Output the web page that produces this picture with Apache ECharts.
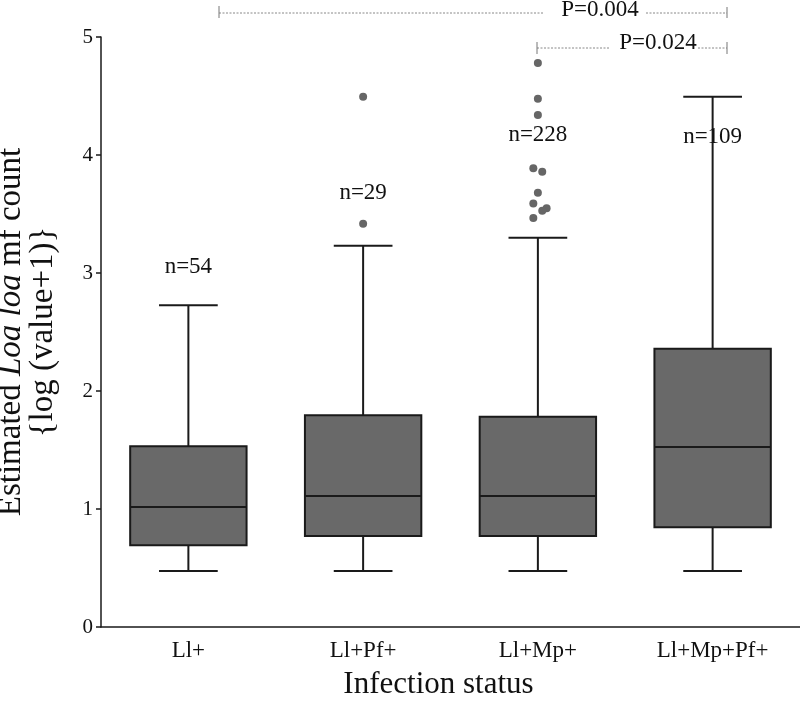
<!DOCTYPE html>
<html>
<head>
<meta charset="utf-8">
<script src="https://cdn.jsdelivr.net/npm/echarts@6/dist/echarts.min.js"></script>
<style>
html,body{margin:0;padding:0;background:#fff;}
#chart{width:800px;height:704px;}
</style>
</head>
<body>
<div id="chart"></div>
<script>
// ---- data ----
var categories = ['Ll+', 'Ll+Pf+', 'Ll+Mp+', 'Ll+Mp+Pf+'];
var lowerWhisker = [0.475, 0.475, 0.475, 0.475];
var q1 = [0.692, 0.771, 0.771, 0.845];
var median = [1.017, 1.110, 1.110, 1.525];
var q3 = [1.531, 1.794, 1.782, 2.359];
var upperWhisker = [2.726, 3.231, 3.298, 4.494];
var nLabels = ['n=54', 'n=29', 'n=228', 'n=109'];
var nLabelAt = [3.05, 3.68, 4.17, 4.155];
var outlierCat = [1, 1, 2, 2, 2, 2, 2, 2, 2, 2, 2, 2];
var outlierVal = [4.494, 3.418, 4.78, 4.477, 4.339, 3.887, 3.859, 3.681, 3.588, 3.548, 3.528, 3.466];
var outlierJitter = [0, 0, 0, 0, 0, -0.026, 0.025, 0, -0.026, 0.05, 0.025, -0.026];
var yTicks = [0, 1, 2, 3, 4, 5];

var FONT = "'Liberation Serif', 'Times New Roman', serif";

var boxData = categories.map(function (c, i) {
  return [i, lowerWhisker[i], q1[i], median[i], q3[i], upperWhisker[i]];
});
var labelData = categories.map(function (c, i) { return [i, nLabelAt[i], nLabels[i]]; });
var outData = outlierVal.map(function (v, i) { return [outlierCat[i], v, outlierJitter[i]]; });

var chart = echarts.init(document.getElementById('chart'), null, {renderer: 'canvas'});

var lineCol = '#1a1a1a';

var option = {
  animation: false,
  backgroundColor: '#fff',
  grid: {left: 101, right: 0, top: 37, bottom: 77, containLabel: false, outerBoundsMode: 'none'},
  xAxis: {
    type: 'category',
    data: categories,
    boundaryGap: true,
    name: 'Infection status',
    nameLocation: 'middle',
    nameGap: 42,
    nameTextStyle: {fontFamily: FONT, fontSize: 31, color: '#111', padding: [0, 24, 0, 0]},
    axisLine: {lineStyle: {color: lineCol, width: 1.5}},
    axisTick: {alignWithLabel: true, length: 6, lineStyle: {color: lineCol, width: 1.5}},
    axisLabel: {fontFamily: FONT, fontSize: 23, color: '#111', margin: 12},
    splitLine: {show: false}
  },
  yAxis: {
    type: 'value',
    min: 0, max: 5, interval: 1,
    name: 'Estimated {i|Loa loa} mf count\n{log (value+1)}',
    nameLocation: 'middle',
    nameGap: 42,
    nameTextStyle: {
      fontFamily: FONT, fontSize: 33, color: '#111', lineHeight: 32,
      rich: {i: {fontFamily: FONT, fontSize: 33, fontStyle: 'italic', color: '#111', lineHeight: 32}}
    },
    axisLine: {show: true, lineStyle: {color: lineCol, width: 1.5}},
    axisTick: {show: true, length: 5, lineStyle: {color: lineCol, width: 1.5}},
    axisLabel: {fontFamily: FONT, fontSize: 21, color: '#111', margin: 8,
      formatter: function (v) { return yTicks.indexOf(v) >= 0 ? String(v) : ''; }},
    splitLine: {show: false}
  },
  series: [
    {
      type: 'custom',
      data: boxData,
      encode: {x: 0, y: [1, 2, 3, 4, 5]},
      renderItem: function (params, api) {
        var i = api.value(0);
        var band = api.size([1, 0])[0];
        var hw = band * 0.333;
        var cw = band * 0.168;
        var pLow = api.coord([i, api.value(1)]);
        var pQ1 = api.coord([i, api.value(2)]);
        var pMed = api.coord([i, api.value(3)]);
        var pQ3 = api.coord([i, api.value(4)]);
        var pHigh = api.coord([i, api.value(5)]);
        var x = pQ1[0];
        var ls = {stroke: lineCol, lineWidth: 2};
        return {
          type: 'group',
          children: [
            {type: 'line', shape: {x1: x, y1: pQ1[1], x2: x, y2: pLow[1]}, style: ls},
            {type: 'line', shape: {x1: x - cw, y1: pLow[1], x2: x + cw, y2: pLow[1]}, style: ls},
            {type: 'line', shape: {x1: x, y1: pQ3[1], x2: x, y2: pHigh[1]}, style: ls},
            {type: 'line', shape: {x1: x - cw, y1: pHigh[1], x2: x + cw, y2: pHigh[1]}, style: ls},
            {type: 'rect', shape: {x: x - hw, y: pQ3[1], width: 2 * hw, height: pQ1[1] - pQ3[1]},
              style: {fill: '#696969', stroke: lineCol, lineWidth: 2}},
            {type: 'line', shape: {x1: x - hw, y1: pMed[1], x2: x + hw, y2: pMed[1]}, style: ls}
          ]
        };
      }
    },
    {
      type: 'custom',
      data: outData,
      encode: {x: 0, y: 1},
      renderItem: function (params, api) {
        var band = api.size([1, 0])[0];
        var p = api.coord([api.value(0), api.value(1)]);
        return {
          type: 'circle',
          shape: {cx: p[0] + api.value(2) * band, cy: p[1], r: 4},
          style: {fill: '#666666'}
        };
      }
    },
    {
      type: 'custom',
      data: labelData,
      encode: {x: 0, y: 1},
      renderItem: function (params, api) {
        var p = api.coord([api.value(0), api.value(1)]);
        return {
          type: 'text',
          x: p[0], y: p[1],
          style: {text: labelData[params.dataIndex][2], fontFamily: FONT, fontSize: 23, fill: '#111',
            align: 'center', verticalAlign: 'middle'}
        };
      }
    }
  ],
  graphic: [
    // top bracket P=0.004
    {type: 'line', shape: {x1: 219, y1: 13, x2: 543, y2: 13}, style: {stroke: '#888', lineWidth: 1, lineDash: [2, 1.5]}},
    {type: 'line', shape: {x1: 646, y1: 13, x2: 727, y2: 13}, style: {stroke: '#888', lineWidth: 1, lineDash: [2, 1.5]}},
    {type: 'line', shape: {x1: 219, y1: 6, x2: 219, y2: 18}, style: {stroke: '#777', lineWidth: 1}},
    {type: 'line', shape: {x1: 727, y1: 7, x2: 727, y2: 18}, style: {stroke: '#777', lineWidth: 1}},
    {type: 'text', x: 600, y: 10, style: {text: 'P=0.004', fontFamily: FONT, fontSize: 23, fill: '#111', align: 'center', verticalAlign: 'middle'}},
    // second bracket P=0.024
    {type: 'line', shape: {x1: 537, y1: 48, x2: 610, y2: 48}, style: {stroke: '#888', lineWidth: 1, lineDash: [2, 1.5]}},
    {type: 'line', shape: {x1: 698, y1: 48, x2: 727, y2: 48}, style: {stroke: '#888', lineWidth: 1, lineDash: [2, 1.5]}},
    {type: 'line', shape: {x1: 537, y1: 42, x2: 537, y2: 54}, style: {stroke: '#777', lineWidth: 1}},
    {type: 'line', shape: {x1: 727, y1: 42, x2: 727, y2: 54}, style: {stroke: '#777', lineWidth: 1}},
    {type: 'text', x: 658, y: 43, style: {text: 'P=0.024', fontFamily: FONT, fontSize: 23, fill: '#111', align: 'center', verticalAlign: 'middle'}}
  ]
};
chart.setOption(option);
</script>
</body>
</html>
